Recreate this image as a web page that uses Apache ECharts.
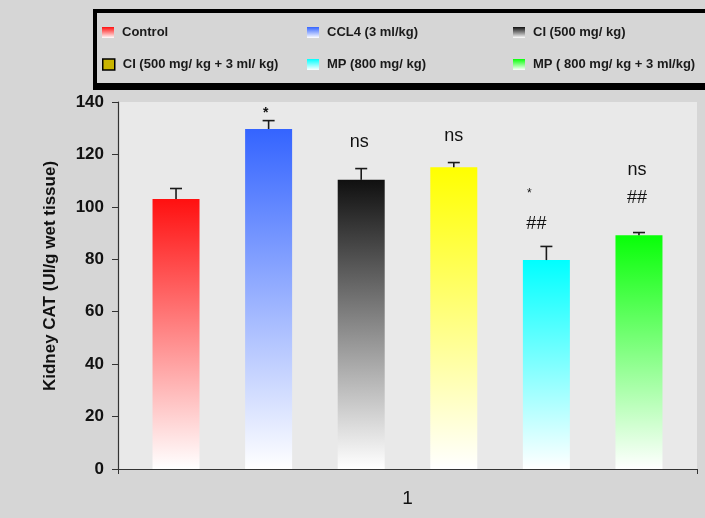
<!DOCTYPE html>
<html><head><meta charset="utf-8">
<script src="https://cdn.jsdelivr.net/npm/echarts@6/dist/echarts.min.js"></script>
<style>html,body{margin:0;padding:0;background:#d6d6d6}#c{width:705px;height:518px}</style>
</head><body><div id="c"></div>
<script>
// ---- data ----
const categories = ['1'];
const seriesNames = ['Control', 'CCL4 (3 ml/kg)', 'CI (500 mg/ kg)', 'CI (500 mg/ kg + 3 ml/ kg)', 'MP (800 mg/ kg)', 'MP ( 800 mg/ kg + 3 ml/kg)'];
const means = [103, 129.7, 110.3, 115.1, 79.7, 89.2];
const errors = [4, 3.2, 4.3, 1.8, 5.2, 1.0];
const annotations = [[], ['*'], ['ns'], ['ns'], ['*', '##'], ['ns', '##']];
const yTicks = [0, 20, 40, 60, 80, 100, 120, 140];
const yAxisTitle = 'Kidney CAT (UI/g wet tissue)';

// ---- layout / style ----
const annotationY = [[], [135.6], [124.6], [127.2], [104.9, 93.5], [114.1, 103.3]];
const annotationDX = [[], [-3], [-2], [0], [-17, -10], [-2, -2]];
const annotationFont = [[], ['bold 14px'], ['18px'], ['18px'], ['12px', '18px'], ['18px', '18px']];
const topColors = ['#ff1010', '#3464ff', '#101010', '#ffff00', '#00ffff', '#08ff08'];
const FONT = '"Liberation Sans", Arial, sans-serif';
const BAR_W = 47, GAP = 0.97, STEP = BAR_W * (1 + GAP);
const legendPos = [[102, 26], [307, 26], [513, 26], [102, 58], [307, 58], [513, 58]];

const chart = echarts.init(document.getElementById('c'));

const barSeries = seriesNames.map((name, i) => ({
  name, type: 'bar', data: [means[i]], barWidth: BAR_W, barGap: (GAP * 100) + '%',
  itemStyle: {
    color: new echarts.graphic.LinearGradient(0, 0, 0, 1, [
      { offset: 0, color: topColors[i] }, { offset: 1, color: '#ffffff' }
    ])
  },
  emphasis: { disabled: true }
}));

const errSeries = {
  type: 'custom', silent: true, z: 5,
  data: means.map((m, i) => [0, m, errors[i], i]),
  renderItem: (params, api) => {
    const i = api.value(3);
    const m = api.value(1), e = api.value(2);
    const base = api.coord([0, m]);
    const top = api.coord([0, m + e]);
    const x = base[0] + (i - 2.5) * STEP;
    const children = [
      { type: 'line', shape: { x1: x, y1: base[1], x2: x, y2: top[1] }, style: { stroke: '#1a1a1a', lineWidth: 1.6 } },
      { type: 'line', shape: { x1: x - 6, y1: top[1], x2: x + 6, y2: top[1] }, style: { stroke: '#1a1a1a', lineWidth: 1.6 } }
    ];
    annotations[i].forEach((t, k) => {
      const p = api.coord([0, annotationY[i][k]]);
      children.push({
        type: 'text',
        style: {
          x: x + annotationDX[i][k], y: p[1], text: t,
          font: annotationFont[i][k] + ' ' + FONT,
          fill: '#111', align: 'center', verticalAlign: 'middle'
        }
      });
    });
    return { type: 'group', children };
  }
};

const legends = seriesNames.map((name, i) => ({
  data: [i === 3 ? { name, itemStyle: { color: '#c8b400', borderColor: '#000', borderWidth: 1.5 } } : name],
  left: legendPos[i][0], top: legendPos[i][1], padding: 0,
  icon: 'rect', itemWidth: 12, itemHeight: 11, selectedMode: false,
  textStyle: { fontFamily: FONT, fontWeight: 'bold', fontSize: 13, color: '#1a1a1a', padding: [0, 0, 0, 3] }
}));

chart.setOption({
  backgroundColor: '#d6d6d6',
  animation: false,
  legend: legends,
  graphic: [
    { type: 'rect', shape: { x: 95, y: 11, width: 640, height: 75 }, style: { fill: 'none', stroke: '#000', lineWidth: 4 }, z: 0 },
    { type: 'rect', shape: { x: 93, y: 83, width: 640, height: 7 }, style: { fill: '#000' }, z: 0 }
  ],
  grid: { left: 118, right: 8, top: 102, bottom: 49, show: true, backgroundColor: '#e9e9e9', borderWidth: 0 },
  xAxis: {
    type: 'category', data: categories,
    axisLine: { lineStyle: { color: '#333', width: 1.2 } },
    axisTick: { show: true, length: 5, lineStyle: { color: '#333' } },
    axisLabel: { fontFamily: FONT, fontSize: 19, color: '#111', margin: 20 }
  },
  yAxis: {
    type: 'value', min: yTicks[0], max: yTicks[yTicks.length - 1], interval: yTicks[1] - yTicks[0],
    name: yAxisTitle, nameLocation: 'middle', nameGap: 59,
    nameTextStyle: { fontFamily: FONT, fontWeight: 'bold', fontSize: 17, color: '#111', padding: [0, 0, 0, 19] },
    axisLine: { show: true, lineStyle: { color: '#333', width: 1.2 } },
    axisTick: { show: true, length: 6, lineStyle: { color: '#333' } },
    axisLabel: { fontFamily: FONT, fontWeight: 'bold', fontSize: 17, color: '#111', margin: 14 },
    splitLine: { show: false }
  },
  series: [...barSeries, errSeries]
});
</script></body></html>
